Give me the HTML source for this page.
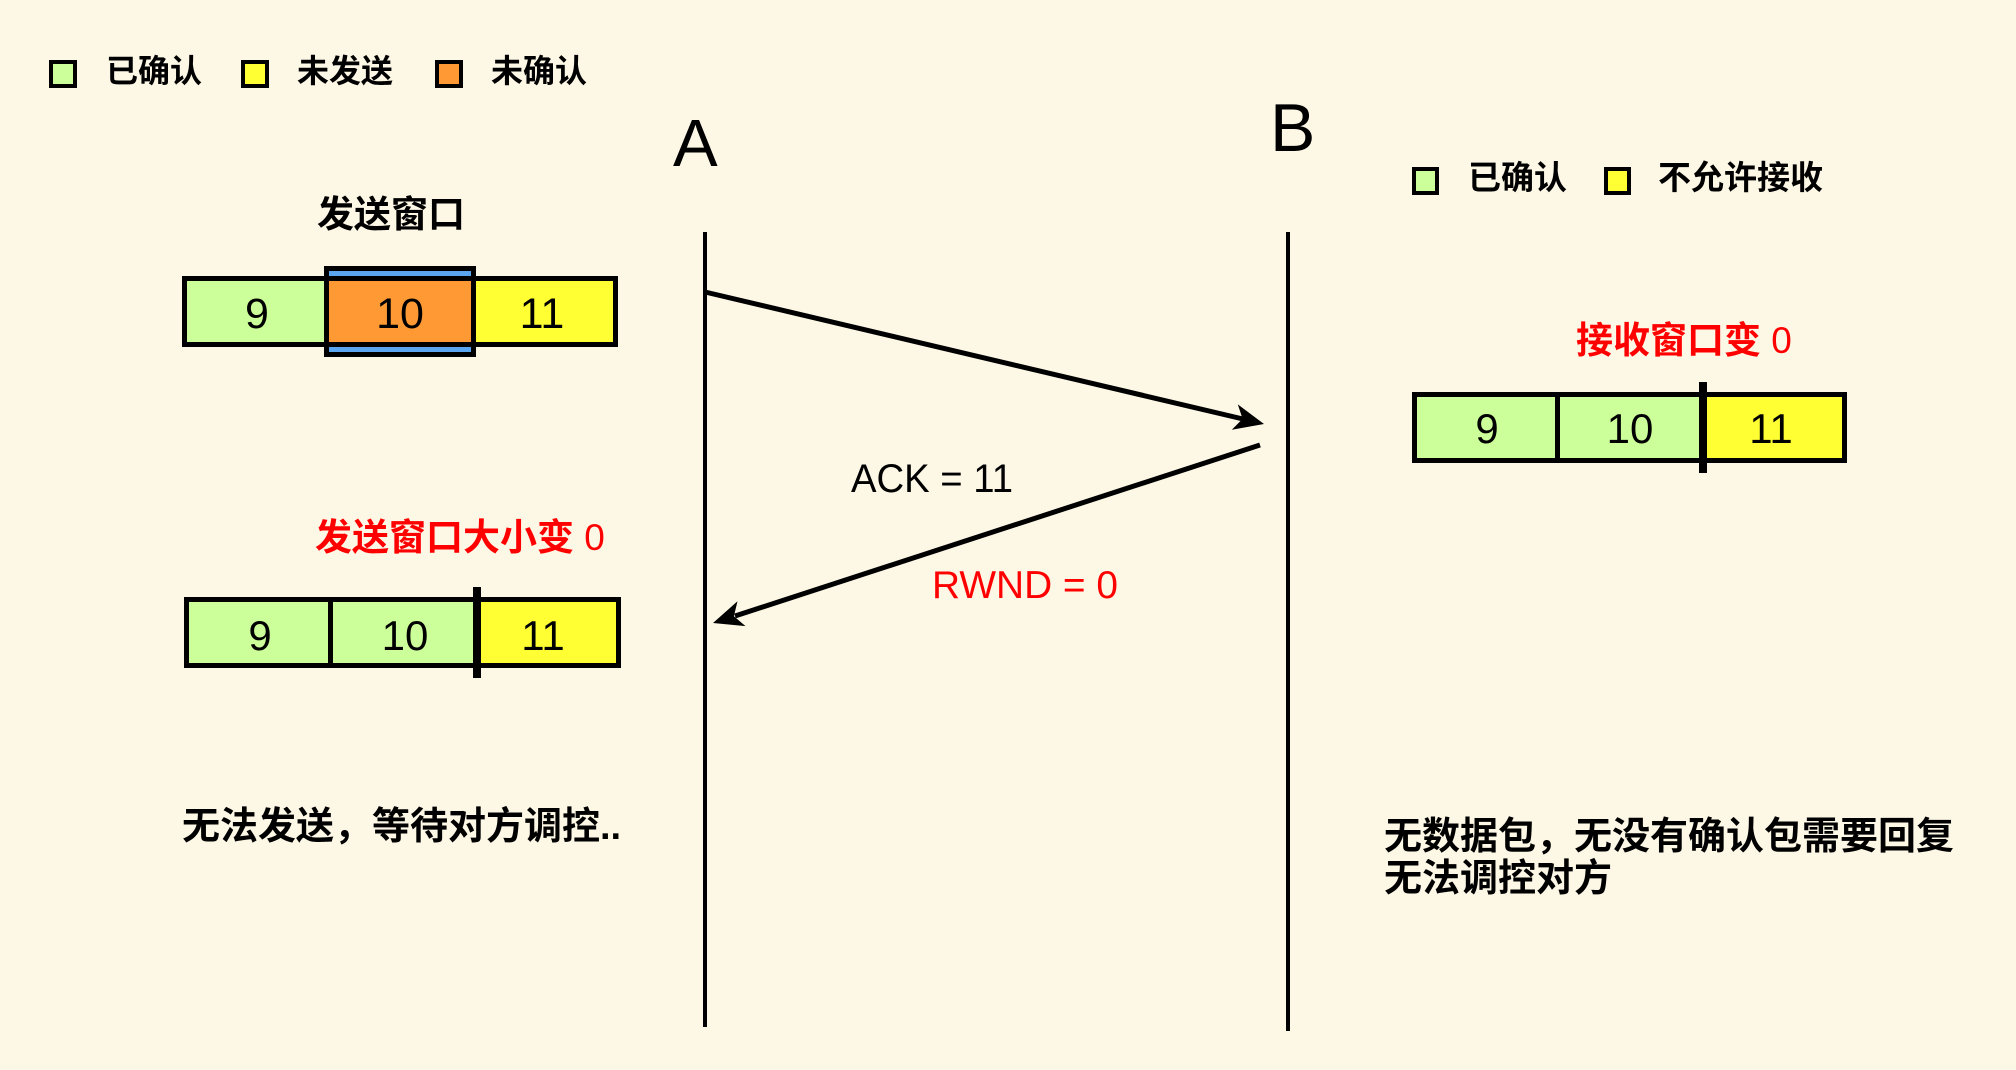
<!DOCTYPE html>
<html>
<head>
<meta charset="utf-8">
<style>
  html, body { margin: 0; padding: 0; background: #fdf7e6; }
  svg { display: block; }
  .cjk { font-family: "Liberation Sans", "Noto Sans CJK SC", sans-serif; font-weight: bold; }
  .lat { font-family: "Liberation Sans", "DejaVu Sans", sans-serif; }
</style>
</head>
<body>
<svg width="2016" height="1070" viewBox="0 0 2016 1070" xmlns="http://www.w3.org/2000/svg">
  <rect x="0" y="0" width="2016" height="1070" fill="#fdf7e6"/>

  <!-- Left legend -->
  <rect x="51" y="62" width="24" height="24" fill="#ccff99" stroke="#000" stroke-width="4"/>
  <text class="cjk" x="106" y="82" font-size="32" fill="#000">已确认</text>
  <rect x="243" y="62" width="24" height="24" fill="#ffff33" stroke="#000" stroke-width="4"/>
  <text class="cjk" x="297" y="82" font-size="32" fill="#000">未发送</text>
  <rect x="437" y="62" width="24" height="24" fill="#ff9933" stroke="#000" stroke-width="4"/>
  <text class="cjk" x="491" y="82" font-size="32" fill="#000">未确认</text>

  <!-- Right legend -->
  <rect x="1414" y="169" width="23" height="24" fill="#ccff99" stroke="#000" stroke-width="4"/>
  <text class="cjk" x="1468" y="189" font-size="33" fill="#000">已确认</text>
  <rect x="1606" y="169" width="23" height="24" fill="#ffff33" stroke="#000" stroke-width="4"/>
  <text class="cjk" x="1658" y="189" font-size="33" fill="#000">不允许接收</text>

  <!-- A / B -->
  <text class="lat" x="673" y="166" font-size="67" fill="#000">A</text>
  <text class="lat" x="1270" y="151" font-size="68" fill="#000">B</text>

  <!-- Vertical lifelines -->
  <line x1="705" y1="232" x2="705" y2="1027" stroke="#000" stroke-width="4"/>
  <line x1="1288" y1="232" x2="1288" y2="1031" stroke="#000" stroke-width="4"/>

  <!-- Sender window title -->
  <text class="cjk" x="317" y="227" font-size="37" fill="#000">发送窗口</text>

  <!-- Top sender window -->
  <rect x="184.5" y="278.5" width="142" height="66" fill="#ccff99" stroke="#000" stroke-width="5"/>
  <rect x="473.5" y="278.5" width="142" height="66" fill="#ffff33" stroke="#000" stroke-width="5"/>
  <rect x="326.5" y="268.5" width="147" height="86" fill="#5aa5f0" stroke="#000" stroke-width="5"/>
  <rect x="326.5" y="278.5" width="147" height="66" fill="#ff9933" stroke="#000" stroke-width="5"/>
  <text class="lat" x="257" y="328" font-size="43" text-anchor="middle" fill="#000">9</text>
  <text class="lat" x="400" y="328" font-size="43" text-anchor="middle" fill="#000">10</text>
  <text class="lat" x="542" y="328" font-size="43" text-anchor="middle" fill="#000">11</text>

  <!-- Sender window size 0 label -->
  <text class="cjk" x="315" y="550" font-size="37" fill="#ff0000">发送窗口大小变 <tspan font-weight="normal">0</tspan></text>

  <!-- Bottom-left window -->
  <rect x="186.5" y="599.5" width="144" height="66" fill="#ccff99" stroke="#000" stroke-width="5"/>
  <rect x="330.5" y="599.5" width="146" height="66" fill="#ccff99" stroke="#000" stroke-width="5"/>
  <rect x="476.5" y="599.5" width="142" height="66" fill="#ffff33" stroke="#000" stroke-width="5"/>
  <rect x="473" y="587" width="8" height="91" fill="#000"/>
  <text class="lat" x="260" y="650" font-size="42" text-anchor="middle" fill="#000">9</text>
  <text class="lat" x="405" y="650" font-size="42" text-anchor="middle" fill="#000">10</text>
  <text class="lat" x="543" y="650" font-size="42" text-anchor="middle" fill="#000">11</text>

  <!-- Receiver window label -->
  <text class="cjk" x="1576" y="353" font-size="37" fill="#ff0000">接收窗口变 <tspan font-weight="normal">0</tspan></text>

  <!-- Receiver window -->
  <rect x="1414.5" y="394.5" width="143" height="66" fill="#ccff99" stroke="#000" stroke-width="5"/>
  <rect x="1557.5" y="394.5" width="146" height="66" fill="#ccff99" stroke="#000" stroke-width="5"/>
  <rect x="1703.5" y="394.5" width="141" height="66" fill="#ffff33" stroke="#000" stroke-width="5"/>
  <rect x="1699" y="382" width="8" height="91" fill="#000"/>
  <text class="lat" x="1487" y="443" font-size="42" text-anchor="middle" fill="#000">9</text>
  <text class="lat" x="1630" y="443" font-size="42" text-anchor="middle" fill="#000">10</text>
  <text class="lat" x="1771" y="443" font-size="42" text-anchor="middle" fill="#000">11</text>

  <!-- Arrow 1: A -> B -->
  <line x1="705" y1="292" x2="1243" y2="419" stroke="#000" stroke-width="5"/>
  <polygon points="1264,424 1231.8,429.8 1242.6,418.9 1237.8,404.4" fill="#000"/>

  <!-- Arrow 2: B -> A -->
  <line x1="1260" y1="445" x2="735" y2="616" stroke="#000" stroke-width="5"/>
  <polygon points="713,623 737.5,601.3 733.9,616.2 745.5,626.1" fill="#000"/>

  <!-- Arrow labels -->
  <text class="lat" x="851" y="492" font-size="40" textLength="162" lengthAdjust="spacingAndGlyphs" fill="#000">ACK = 11</text>
  <text class="lat" x="932" y="598" font-size="39" textLength="186" lengthAdjust="spacingAndGlyphs" fill="#ff0000">RWND = 0</text>

  <!-- Bottom texts -->
  <text class="cjk" x="182" y="839" font-size="38" fill="#000">无法发送，等待对方调控..</text>
  <text class="cjk" x="1384" y="849" font-size="38" fill="#000">无数据包，无没有确认包需要回复</text>
  <text class="cjk" x="1384" y="891" font-size="38" fill="#000">无法调控对方</text>
</svg>
</body>
</html>
